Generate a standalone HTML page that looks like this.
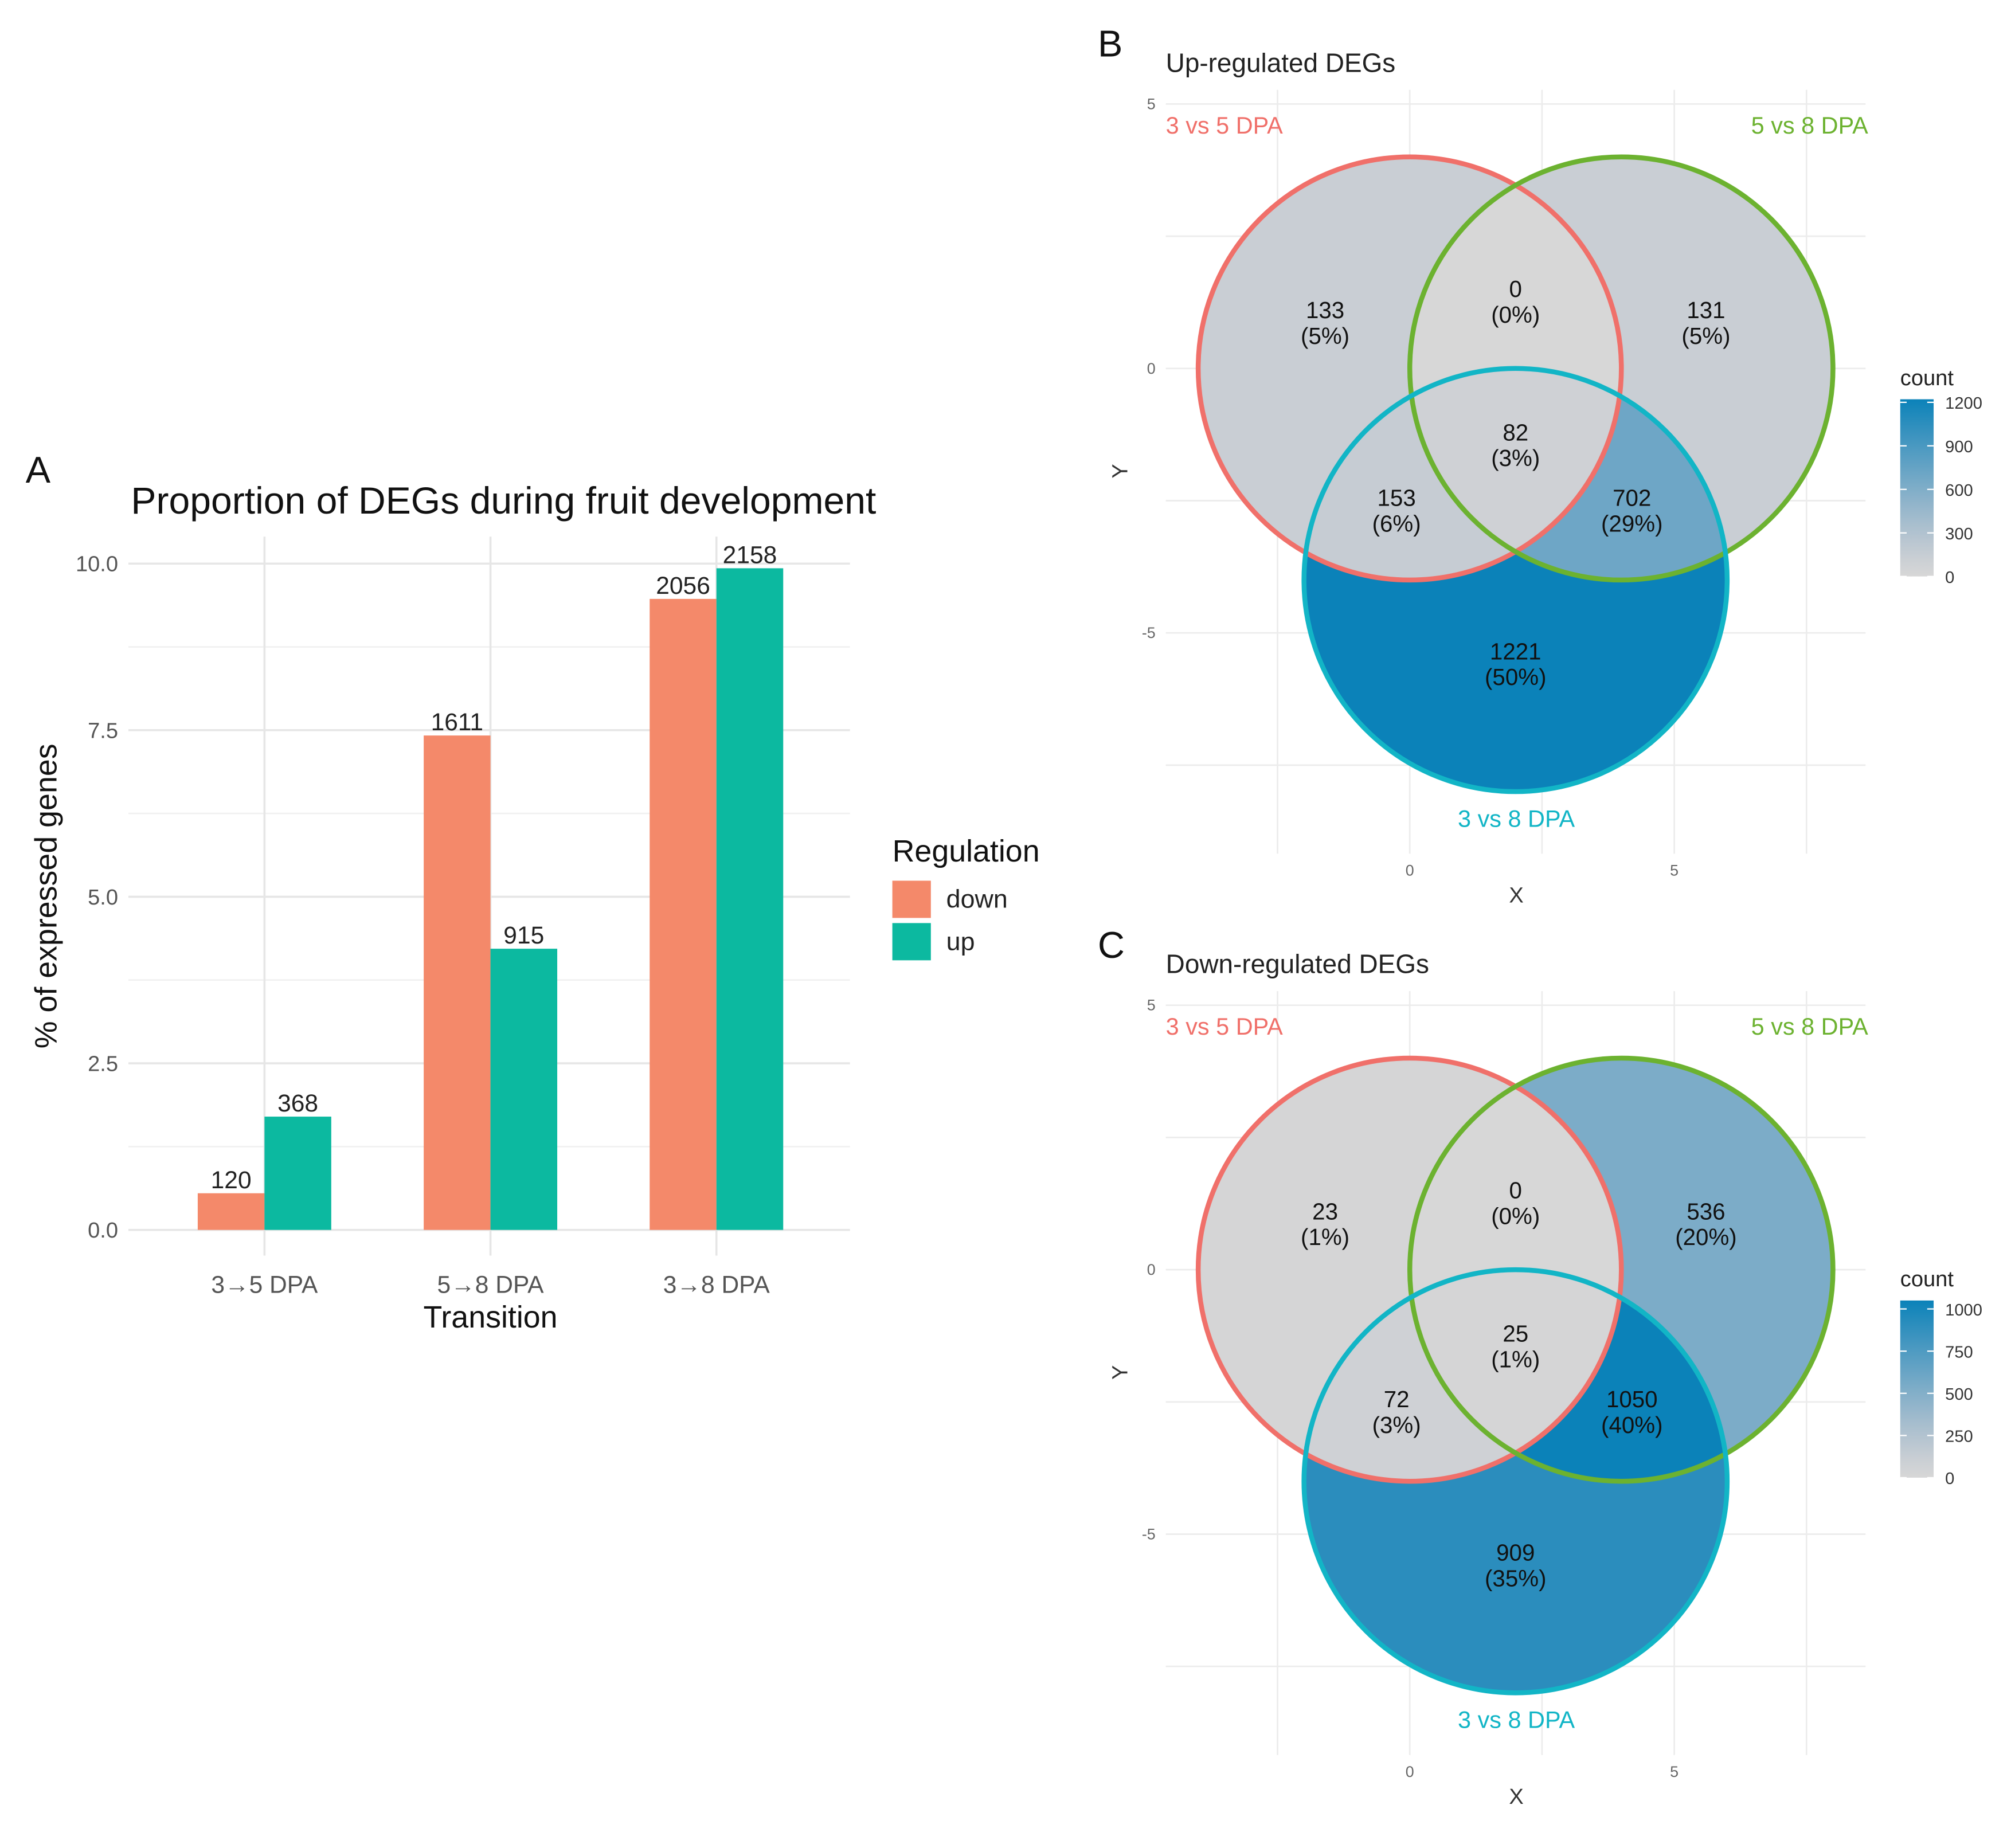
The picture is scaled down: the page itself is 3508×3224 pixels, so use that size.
<!DOCTYPE html>
<html><head><meta charset="utf-8">
<style>
html,body{margin:0;padding:0;background:#fff;}
svg{display:block;font-family:"Liberation Sans",Arial,sans-serif;}
</style></head>
<body>
<svg id="fig" width="3508" height="3224" viewBox="0 0 1560 1433.7" preserveAspectRatio="none" xmlns="http://www.w3.org/2000/svg">
<defs id="defs"></defs>
<g transform="scale(0.996)">
<g id="panelA"></g>
<g id="panelB"></g>
<g id="panelC" transform="translate(0,702)"></g>
</g>
</svg>
<script>
// ---- Panel A data ----
const categories = ["3\u21925 DPA", "5\u21928 DPA", "3\u21928 DPA"];
const downPct = [0.55, 7.42, 9.47];
const upPct = [1.70, 4.22, 9.93];
const downCounts = [120, 1611, 2056];
const upCounts = [368, 915, 2158];
const yTicks = [0, 2.5, 5, 7.5, 10];
const yTickLabels = ["0.0", "2.5", "5.0", "7.5", "10.0"];

// ---- Venn data ----
const vennRegions = ["A", "B", "AB", "ABC", "AC", "BC", "C"];
const upRegionCounts = [133, 131, 0, 82, 153, 702, 1221];
const upRegionPct = ["5%", "5%", "0%", "3%", "6%", "29%", "50%"];
const downRegionCounts = [23, 536, 0, 25, 72, 1050, 909];
const downRegionPct = ["1%", "20%", "0%", "1%", "3%", "40%", "35%"];
const upLegendTicks = [0, 300, 600, 900, 1200];
const downLegendTicks = [0, 250, 500, 750, 1000];
const setNames = ["3 vs 5 DPA", "5 vs 8 DPA", "3 vs 8 DPA"];

const NS = "http://www.w3.org/2000/svg";
function mk(tag, attrs, parent, text) {
  const e = document.createElementNS(NS, tag);
  for (const k in attrs) e.setAttribute(k, attrs[k]);
  if (text !== undefined) e.textContent = text;
  if (parent) parent.appendChild(e);
  return e;
}
const defs = document.getElementById("defs");

// ================= Panel A =================
(function () {
  const g = document.getElementById("panelA");
  const y0 = 958, yPerUnit = 51.9;
  const yScale = v => y0 - v * yPerUnit;
  const catX = i => 206 + i * 176;
  const barW = 52;
  const left = 100, right = 662;
  let t;
  t = mk("text", {x: 20, y: 376, "font-size": 29, fill: "#111"}, g, "A");
  
  
  t = mk("text", {x: 102, y: 400, "font-size": 29.5, fill: "#111"}, g, "Proportion of DEGs during fruit development");
  
  
  for (let i = 0; i < yTicks.length - 1; i++) {
    const v = (yTicks[i] + yTicks[i + 1]) / 2;
    const l = mk("line", {x1: left, x2: right, y1: yScale(v), y2: yScale(v), stroke: "#f1f1f1", "stroke-width": 1.2}, g);
    
    
  }
  yTicks.forEach((v, i) => {
    const l = mk("line", {x1: left, x2: right, y1: yScale(v), y2: yScale(v), stroke: "#e6e6e6", "stroke-width": 1.6}, g);
    
    
    const tx = mk("text", {x: 92, y: yScale(v) + 6, "font-size": 17, fill: "#555", "text-anchor": "end"}, g, yTickLabels[i]);
    
    
  });
  categories.forEach((c, i) => {
    const l = mk("line", {x1: catX(i), x2: catX(i), y1: 418, y2: 978, stroke: "#e6e6e6", "stroke-width": 1.6}, g);
    
    
  });
  categories.forEach((c, i) => {
    const xd = catX(i) - barW, xu = catX(i);
    const bd = mk("rect", {x: xd, y: yScale(downPct[i]), width: barW, height: y0 - yScale(downPct[i]), fill: "#f4896a"}, g);
    
    
    const bu = mk("rect", {x: xu, y: yScale(upPct[i]), width: barW, height: y0 - yScale(upPct[i]), fill: "#0cb9a0"}, g);
    
    
    const ld = mk("text", {x: xd + barW / 2, y: yScale(downPct[i]) - 4, "font-size": 19, fill: "#222", "text-anchor": "middle"}, g, String(downCounts[i]));
    
    
    const lu = mk("text", {x: xu + barW / 2, y: yScale(upPct[i]) - 4, "font-size": 19, fill: "#222", "text-anchor": "middle"}, g, String(upCounts[i]));
    
    
    const xt = mk("text", {x: catX(i), y: 1007, "font-size": 19, fill: "#555", "text-anchor": "middle"}, g, c);
    
    
  });
  t = mk("text", {x: 382, y: 1034, "font-size": 24, fill: "#111", "text-anchor": "middle"}, g, "Transition");
  
  
  t = mk("text", {x: 0, y: 0, "font-size": 24, fill: "#111", "text-anchor": "middle", transform: "translate(44,698) rotate(-90)"}, g, "% of expressed genes");
  
  
  t = mk("text", {x: 695, y: 671, "font-size": 24, fill: "#111"}, g, "Regulation");
  
  
  const lk1 = mk("rect", {x: 695, y: 686, width: 30, height: 29, fill: "#f4896a"}, g);
  
  
  const lk2 = mk("rect", {x: 695, y: 719, width: 30, height: 29, fill: "#0cb9a0"}, g);
  
  
  t = mk("text", {x: 737, y: 707, "font-size": 20, fill: "#222"}, g, "down");
  
  
  t = mk("text", {x: 737, y: 740, "font-size": 20, fill: "#222"}, g, "up");
  
  
})();

// ================= Venn panels =================
function lerpColor(t) {
  const a = [215, 215, 215], b = [11, 130, 185];
  t = Math.max(0, Math.min(1, t));
  const tr = Math.pow(t, 1.2);
  const r = Math.round(a[0] + (b[0] - a[0]) * tr);
  const gg = Math.round(a[1] + (b[1] - a[1]) * t);
  const bb = Math.round(a[2] + (b[2] - a[2]) * t);
  return "rgb(" + r + "," + gg + "," + bb + ")";
}
function venn(gid, id, letter, title, counts, pcts, ticks, cmax) {
  const g = document.getElementById(gid);
  const ux = 41.2, x0 = 1098, y0 = 287;
  const X = v => x0 + v * ux, Y = v => y0 - v * ux;
  const centers = [[0, 0], [4, 0], [2, -4]];
  const R = 4;
  const strokes = ["#f0706a", "#6cb230", "#12b5c6"];
  let t;
  t = mk("text", {x: 855, y: 44, "font-size": 29, fill: "#111"}, g, letter);
  
  
  t = mk("text", {x: 908, y: 56, "font-size": 20.5, fill: "#222"}, g, title);
  
  
  [-7.5, -5, -2.5, 0, 2.5, 5].forEach(v => {
    const l = mk("line", {x1: 908, x2: 1453, y1: Y(v), y2: Y(v), stroke: "#ececec", "stroke-width": 1.2}, g);
    
    
  });
  [-2.5, 0, 2.5, 5, 7.5].forEach(v => {
    const l = mk("line", {x1: X(v), x2: X(v), y1: 70, y2: 665, stroke: "#ececec", "stroke-width": 1.2}, g);
    
    
  });
  [[5, "5"], [0, "0"], [-5, "-5"]].forEach(p => {
    const tx = mk("text", {x: 900, y: Y(p[0]) + 4, "font-size": 12, fill: "#666", "text-anchor": "end"}, g, p[1]);
    
    
  });
  [[0, "0"], [5, "5"]].forEach(p => {
    const tx = mk("text", {x: X(p[0]), y: 682, "font-size": 12, fill: "#666", "text-anchor": "middle"}, g, p[1]);
    
    
  });
  t = mk("text", {x: 1181, y: 703, "font-size": 17, fill: "#333", "text-anchor": "middle"}, g, "X");
  
  
  t = mk("text", {x: 0, y: 0, "font-size": 17, fill: "#333", "text-anchor": "middle", transform: "translate(878,367) rotate(-90)"}, g, "Y");
  
  
  const cids = centers.map((c, i) => {
    const cp = mk("clipPath", {id: id + "c" + i}, defs);
    mk("circle", {cx: X(c[0]), cy: Y(c[1]), r: R * ux}, cp);
    return id + "c" + i;
  });
  const mem = {A: [1, 0, 0], B: [0, 1, 0], AB: [1, 1, 0], ABC: [1, 1, 1], AC: [1, 0, 1], BC: [0, 1, 1], C: [0, 0, 1]};
  vennRegions.forEach((rname, ri) => {
    const m = mem[rname];
    const mid = id + "m" + ri;
    const mask = mk("mask", {id: mid, maskUnits: "userSpaceOnUse", x: 0, y: 0, width: 1560, height: 1434}, defs);
    mk("rect", {x: 0, y: 0, width: 1560, height: 1434, fill: "white"}, mask);
    m.forEach((v, k) => { if (!v) mk("circle", {cx: X(centers[k][0]), cy: Y(centers[k][1]), r: R * ux + 0.5, fill: "black"}, mask); });
    let parent = mk("g", {mask: "url(#" + mid + ")"}, g);
    m.forEach((v, k) => { if (v) parent = mk("g", {"clip-path": "url(#" + cids[k] + ")"}, parent); });
    const rect = mk("rect", {x: 900, y: 60, width: 560, height: 620, fill: lerpColor(counts[ri] / cmax)}, parent);
    
    
  });
  centers.forEach((c, i) => {
    const ci = mk("circle", {cx: X(c[0]), cy: Y(c[1]), r: R * ux, fill: "none", stroke: strokes[i], "stroke-width": 3.8}, g);
    
    
  });
  const lp = {A: [-1.6, 0.95], B: [5.6, 0.95], AB: [2, 1.35], ABC: [2, -1.36], AC: [-0.25, -2.6], BC: [4.2, -2.6], C: [2, -5.5]};
  vennRegions.forEach((rname, ri) => {
    const p = lp[rname];
    const t1 = mk("text", {x: X(p[0]), y: Y(p[1]), "font-size": 18, fill: "#111", "text-anchor": "middle"}, g, String(counts[ri]));
    
    
    const t2 = mk("text", {x: X(p[0]), y: Y(p[1]) + 20, "font-size": 18, fill: "#111", "text-anchor": "middle"}, g, "(" + pcts[ri] + ")");
    
    
  });
  t = mk("text", {x: 908, y: 104, "font-size": 18.5, fill: strokes[0]}, g, setNames[0]);
  
  
  t = mk("text", {x: 1455, y: 104, "font-size": 18.5, fill: strokes[1], "text-anchor": "end"}, g, setNames[1]);
  
  
  t = mk("text", {x: 1181, y: 644, "font-size": 18.5, fill: strokes[2], "text-anchor": "middle"}, g, setNames[2]);
  
  
  const gradId = id + "grad";
  const lg = mk("linearGradient", {id: gradId, x1: 0, y1: 1, x2: 0, y2: 0}, defs);
  for (let k = 0; k <= 10; k++) mk("stop", {offset: k / 10, "stop-color": lerpColor(k / 10)}, lg);
  const top = 311, bot = 449;
  const cy = v => bot - (v / cmax) * (bot - top);
  t = mk("text", {x: 1480, y: 300, "font-size": 17, fill: "#222"}, g, "count");
  
  
  const cb = mk("rect", {x: 1480, y: top, width: 26, height: bot - top, fill: "url(#" + gradId + ")"}, g);
  
  
  ticks.forEach(v => {
    const tx = mk("text", {x: 1515, y: cy(v) + 5, "font-size": 13, fill: "#333"}, g, String(v));
    
    
    mk("line", {x1: 1480, x2: 1485, y1: cy(v), y2: cy(v), stroke: "#fff", "stroke-width": 1}, g);
    mk("line", {x1: 1501, x2: 1506, y1: cy(v), y2: cy(v), stroke: "#fff", "stroke-width": 1}, g);
  });
}
venn("panelB", "vb", "B", "Up-regulated DEGs", upRegionCounts, upRegionPct, upLegendTicks, 1221);
venn("panelC", "vc", "C", "Down-regulated DEGs", downRegionCounts, downRegionPct, downLegendTicks, 1050);
</script>
</body></html>
